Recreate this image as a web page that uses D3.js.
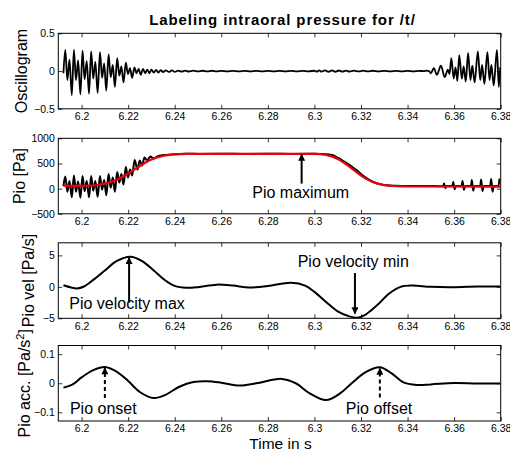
<!DOCTYPE html>
<html>
<head>
<meta charset="utf-8">
<script src="https://cdn.jsdelivr.net/npm/d3@7"></script>
<style>
  body { margin: 0; background: #fff; }
  svg { display: block; }
  text { font-family: "Liberation Sans", Arial, Helvetica, sans-serif; fill: #000; }
</style>
</head>
<body>
<script>
// shared time axis
var timeDomain = [6.19, 6.38];
var timeTicks = [6.2, 6.22, 6.24, 6.26, 6.28, 6.3, 6.32, 6.34, 6.36, 6.38];

// oscillogram (time s, amplitude)
var oscSignal = [
  [6.1922, -0.03], [6.1930, 0.28], [6.1939, -0.12], [6.1948, 0.15], [6.1958, -0.32],
  [6.1967, 0.28], [6.1976, -0.12], [6.1985, 0.14], [6.1995, -0.31],
  [6.2004, 0.27], [6.2013, -0.11], [6.2022, 0.13], [6.2032, -0.30],
  [6.2041, 0.26], [6.2050, -0.10], [6.2059, 0.12], [6.2069, -0.29],
  [6.2079, 0.25], [6.2088, -0.09], [6.2097, 0.10], [6.2106, -0.26],
  [6.2116, 0.22], [6.2125, -0.08], [6.2134, 0.08], [6.2143, -0.21],
  [6.2153, 0.17], [6.2162, -0.06], [6.2171, 0.06], [6.2180, -0.15],
  [6.2190, 0.11], [6.2199, -0.04], [6.2208, 0.04], [6.2217, -0.09],
  [6.2227, 0.05], [6.2236, -0.03], [6.2245, 0.03], [6.2254, -0.05],
  [6.2264, 0.03], [6.2273, -0.03], [6.2282, 0.02], [6.2291, -0.03],
  [6.2300, 0.02], [6.2310, -0.02], [6.2320, 0.015], [6.2330, -0.02],
  [6.2340, 0.012], [6.2350, -0.015], [6.2362, 0.01], [6.2375, -0.012],
  [6.2388, 0.008], [6.2400, -0.01], [6.2415, 0.006], [6.2430, -0.008],
  [6.2445, 0.006], [6.2460, -0.006], [6.2480, 0.005], [6.2500, -0.005],
  [6.2520, 0.004], [6.2540, -0.004], [6.2560, 0.004], [6.2580, -0.004],
  [6.2600, 0.003], [6.2625, -0.004], [6.2650, 0.003], [6.2675, -0.003],
  [6.2700, 0.003], [6.2725, -0.003], [6.2750, 0.003], [6.2775, -0.003],
  [6.2800, 0.002], [6.2825, -0.003], [6.2850, 0.003], [6.2875, -0.003],
  [6.2900, 0.003], [6.2925, -0.003], [6.2950, 0.003], [6.2975, -0.003],
  [6.3000, 0.004], [6.3010, -0.008], [6.3020, 0.010], [6.3030, -0.008],
  [6.3045, 0.009], [6.3060, -0.010], [6.3075, 0.008], [6.3090, -0.009],
  [6.3105, 0.007], [6.3120, -0.008], [6.3135, 0.006], [6.3150, -0.006],
  [6.3170, 0.006], [6.3190, -0.005], [6.3210, 0.005], [6.3230, -0.004],
  [6.3250, 0.004], [6.3275, -0.004], [6.3300, 0.003], [6.3325, -0.003],
  [6.3350, 0.003], [6.3375, -0.003], [6.3400, 0.003], [6.3425, -0.003],
  [6.3450, 0.003], [6.3470, -0.002], [6.3480, 0.005], [6.3492, 0.0],
  [6.3500, -0.03], [6.3513, 0.04], [6.3526, -0.05], [6.3543, 0.07],
  [6.3560, -0.08], [6.3573, 0.02], [6.3580, -0.04], [6.3588, 0.17],
  [6.3598, -0.10], [6.3606, 0.05], [6.3614, -0.13], [6.3622, 0.21],
  [6.3633, -0.10], [6.3641, 0.06], [6.3650, -0.14], [6.3660, 0.24],
  [6.3670, -0.12], [6.3678, 0.07], [6.3688, -0.15], [6.3702, 0.26],
  [6.3712, -0.12], [6.3720, 0.08], [6.3730, -0.17], [6.3743, 0.25],
  [6.3752, -0.12], [6.3760, 0.08], [6.3770, -0.19], [6.3784, 0.28],
  [6.3792, -0.21], [6.3798, 0.05]
];

// intraoral pressure, measured (black) and smoothed (red), Pa
var pioRaw = [
  [6.1922, 50], [6.1930, 240], [6.1939, -60], [6.1948, 150], [6.1958, -170],
  [6.1967, 260], [6.1976, -60], [6.1985, 140], [6.1995, -180],
  [6.2004, 250], [6.2013, -50], [6.2022, 150], [6.2032, -170],
  [6.2041, 250], [6.2050, -40], [6.2059, 150], [6.2069, -160],
  [6.2079, 250], [6.2088, -20], [6.2097, 170], [6.2106, -130],
  [6.2116, 290], [6.2125, 20], [6.2134, 220], [6.2143, -60],
  [6.2153, 330], [6.2162, 120], [6.2171, 290], [6.2180, 80],
  [6.2190, 430], [6.2199, 220], [6.2208, 380], [6.2217, 260],
  [6.2228, 570], [6.2240, 380], [6.2250, 560], [6.2260, 460],
  [6.2270, 620], [6.2282, 560], [6.2295, 640], [6.2310, 600],
  [6.2330, 650], [6.2360, 670], [6.2400, 685], [6.2450, 695],
  [6.2500, 690], [6.2600, 692], [6.2700, 690], [6.2800, 693], [6.2900, 690],
  [6.3000, 692], [6.3050, 682], [6.3080, 662], [6.3100, 615], [6.3130, 530],
  [6.3160, 440], [6.3190, 330], [6.3220, 220], [6.3250, 140], [6.3280, 90],
  [6.3310, 65], [6.3350, 55], [6.3400, 50], [6.3450, 50], [6.3500, 52],
  [6.3540, 48], [6.3553, 50], [6.3557, 100], [6.3562, 10], [6.3567, 50],
  [6.3592, 50], [6.3596, 130], [6.3602, -10], [6.3607, 50],
  [6.3632, 50], [6.3636, 150], [6.3642, -25], [6.3647, 50],
  [6.3672, 50], [6.3676, 170], [6.3682, -40], [6.3687, 50],
  [6.3712, 50], [6.3716, 180], [6.3722, -50], [6.3727, 50],
  [6.3755, 50], [6.3759, 190], [6.3765, -60], [6.3770, 50],
  [6.3790, 50], [6.3795, 200]
];
var pioSmooth = [
  [6.1922, 60], [6.2000, 55], [6.2050, 62], [6.2100, 100], [6.2150, 175],
  [6.2200, 300], [6.2250, 450], [6.2300, 580], [6.2350, 650], [6.2400, 680],
  [6.2450, 690], [6.3000, 690], [6.3050, 670], [6.3100, 590], [6.3150, 440],
  [6.3200, 260], [6.3250, 130], [6.3300, 70], [6.3350, 50], [6.3400, 42],
  [6.3798, 40]
];

// first derivative, Pa/s
var pioVel = [
  [6.1922, 0.25], [6.1955, -0.1], [6.1980, -0.25], [6.2010, 0.05], [6.2050, 1.1],
  [6.2100, 2.6], [6.2150, 4.1], [6.2210, 4.8], [6.2260, 4.1], [6.2310, 2.6],
  [6.2360, 1.0], [6.2400, 0.15], [6.2450, -0.15], [6.2500, -0.05], [6.2580, 0.35],
  [6.2650, 0.2], [6.2720, -0.1], [6.2800, 0.15], [6.2900, 0.65], [6.2960, 0.2],
  [6.3000, -0.8], [6.3050, -2.4], [6.3100, -3.9], [6.3150, -4.7], [6.3185, -4.9],
  [6.3220, -4.4], [6.3270, -2.9], [6.3320, -1.1], [6.3370, 0.0], [6.3420, 0.2],
  [6.3500, 0.0], [6.3600, -0.05], [6.3700, 0.05], [6.3798, 0.05]
];

// second derivative, Pa/s^2
var pioAcc = [
  [6.1922, -0.015], [6.1960, -0.005], [6.2000, 0.02], [6.2050, 0.045], [6.2100, 0.056],
  [6.2150, 0.040], [6.2200, 0.008], [6.2250, -0.030], [6.2310, -0.051], [6.2360, -0.040],
  [6.2420, -0.012], [6.2480, 0.004], [6.2540, 0.007], [6.2600, 0.002], [6.2680, -0.008],
  [6.2750, 0.0], [6.2860, 0.015], [6.2920, 0.0], [6.2980, -0.035], [6.3050, -0.058],
  [6.3110, -0.035], [6.3160, 0.0], [6.3220, 0.038], [6.3280, 0.055], [6.3330, 0.035],
  [6.3380, 0.004], [6.3440, -0.006], [6.3500, -0.004], [6.3600, 0.001], [6.3700, -0.001],
  [6.3798, -0.001]
];

// y axes of the four panels
var oscDomain = [-0.5, 0.5], oscTicks = [-0.5, 0, 0.5];
var pioDomain = [-500, 1000], pioTicks = [-500, 0, 500, 1000];
var velDomain = [-5, 7], velTicks = [-5, 0, 5];
var accDomain = [-0.13, 0.13], accTicks = [-0.1, 0, 0.1];

// annotations: label, arrow time, arrow from/to value, text time, text value
var notePioMax = { text: "Pio maximum", t: 6.2945, from: 100, to: 680, tx: 6.2733, ty: -180 };
var noteVelMax = { text: "Pio velocity max", t: 6.2204, from: -2.5, to: 4.65, tx: 6.1947, ty: -3.5 };
var noteVelMin = { text: "Pio velocity min", t: 6.3174, from: 2.2, to: -4.25, tx: 6.2928, ty: 3.1 };
var noteOnset = { text: "Pio onset", t: 6.2100, from: -0.051, to: 0.053, tx: 6.1950, ty: -0.107 };
var noteOffset = { text: "Pio offset", t: 6.3281, from: -0.049, to: 0.051, tx: 6.3135, ty: -0.105 };

var w = 510, h = 452;
var plotLeft = 58.3, plotRight = 500.7, panelH = 75.5;

var svg = d3.select("body").append("svg")
  .attr("width", w)
  .attr("height", h);

var defs = svg.append("defs");
defs.append("marker")
  .attr("id", "head")
  .attr("markerUnits", "userSpaceOnUse")
  .attr("viewBox", "0 0 10 10")
  .attr("refX", 9).attr("refY", 5)
  .attr("markerWidth", 10).attr("markerHeight", 7)
  .attr("orient", "auto")
  .append("path")
  .attr("d", "M0,0L10,5L0,10z")
  .attr("fill", "#000");

var x = d3.scaleLinear().domain(timeDomain).range([plotLeft, plotRight]);

// one MATLAB style box with inward ticks on all sides
function panel(id, top, yDomain, yTicks) {
  var y = d3.scaleLinear().domain(yDomain).range([top + panelH, top]);
  var g = svg.append("g");

  defs.append("clipPath").attr("id", "clip-" + id)
    .append("rect")
    .attr("x", plotLeft).attr("y", top)
    .attr("width", plotRight - plotLeft).attr("height", panelH);

  g.append("g")
    .attr("transform", "translate(0," + (top + panelH) + ")")
    .call(d3.axisBottom(x).tickValues(timeTicks).tickSizeInner(-4).tickSizeOuter(0)
      .tickPadding(4).tickFormat(function (d) { return String(d); }));
  g.append("g")
    .attr("transform", "translate(0," + top + ")")
    .call(d3.axisTop(x).tickValues(timeTicks).tickSizeInner(-4).tickSizeOuter(0).tickFormat(""));
  g.append("g")
    .attr("transform", "translate(" + plotLeft + ",0)")
    .call(d3.axisLeft(y).tickValues(yTicks).tickSizeInner(-4).tickSizeOuter(0)
      .tickPadding(3.5).tickFormat(d3.format("")));
  g.append("g")
    .attr("transform", "translate(" + plotRight + ",0)")
    .call(d3.axisRight(y).tickValues(yTicks).tickSizeInner(-4).tickSizeOuter(0).tickFormat(""));

  g.selectAll(".domain").remove();
  g.selectAll(".tick line").attr("stroke", "#000").attr("stroke-width", 0.8);
  g.selectAll(".tick text")
    .attr("fill", "#000")
    .style("font-family", "'Liberation Sans', Arial, sans-serif")
    .style("font-size", "10.5px");

  g.append("rect")
    .attr("x", plotLeft).attr("y", top)
    .attr("width", plotRight - plotLeft).attr("height", panelH)
    .attr("fill", "none").attr("stroke", "#000").attr("stroke-width", 1);

  return { g: g, y: y, top: top, id: id };
}

function trace(p, data, color, width, curve) {
  var line = d3.line()
    .x(function (d) { return x(d[0]); })
    .y(function (d) { return p.y(d[1]); })
    .curve(curve);
  p.g.append("path")
    .datum(data)
    .attr("clip-path", "url(#clip-" + p.id + ")")
    .attr("d", line)
    .attr("fill", "none")
    .attr("stroke", color)
    .attr("stroke-width", width)
    .attr("stroke-linejoin", "round");
}

function note(p, n, dashed) {
  p.g.append("line")
    .attr("x1", x(n.t)).attr("x2", x(n.t))
    .attr("y1", p.y(n.from)).attr("y2", p.y(n.to))
    .attr("stroke", "#000")
    .attr("stroke-width", 2)
    .attr("stroke-dasharray", dashed ? "4,3" : null)
    .attr("marker-end", "url(#head)");
  p.g.append("text")
    .attr("x", x(n.tx)).attr("y", p.y(n.ty))
    .style("font-size", "16px")
    .text(n.text);
}

function yLabel(p, xpos, text, sup) {
  var t = svg.append("text")
    .attr("transform", "translate(" + xpos + "," + (p.top + panelH / 2) + ") rotate(-90)")
    .attr("text-anchor", "middle")
    .style("font-size", "16px")
    .text(text);
  if (sup) {
    t.append("tspan").attr("dy", -6).style("font-size", "11px").text(sup);
    t.append("tspan").attr("dy", 6).text("]");
  }
}

var p1 = panel("osc", 33.3, oscDomain, oscTicks);
var p2 = panel("pio", 138.3, pioDomain, pioTicks);
var p3 = panel("vel", 242.8, velDomain, velTicks);
var p4 = panel("acc", 345.5, accDomain, accTicks);

trace(p1, oscSignal, "#000", 1.8, d3.curveMonotoneX);
trace(p2, pioRaw, "#000", 2, d3.curveMonotoneX);
trace(p2, pioSmooth, "#e8000b", 2.2, d3.curveMonotoneX);
trace(p3, pioVel, "#000", 2, d3.curveCatmullRom);
trace(p4, pioAcc, "#000", 2, d3.curveCatmullRom);

note(p2, notePioMax, false);
note(p3, noteVelMax, false);
note(p3, noteVelMin, false);
note(p4, noteOnset, true);
note(p4, noteOffset, true);

yLabel(p1, 27, "Oscillogram");
yLabel(p2, 25, "Pio [Pa]");
yLabel(p3, 34, "Pio vel [Pa/s]");
yLabel(p4, 30, "Pio acc. [Pa/s", "2");

svg.append("text")
  .attr("x", (plotLeft + plotRight) / 2 + 3)
  .attr("y", 25)
  .attr("text-anchor", "middle")
  .style("font-size", "15px")
  .style("font-weight", "bold")
  .style("letter-spacing", "0.9px")
  .text("Labeling intraoral pressure for /t/");

svg.append("text")
  .attr("x", (plotLeft + plotRight) / 2 + 1)
  .attr("y", 449)
  .attr("text-anchor", "middle")
  .style("font-size", "15.5px")
  .text("Time in s");
</script>
</body>
</html>
